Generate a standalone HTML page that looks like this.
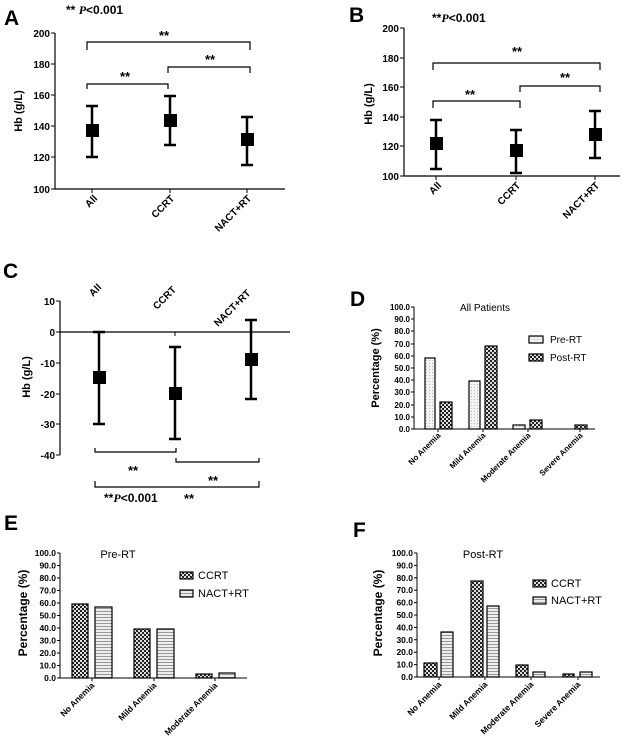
<!DOCTYPE html>
<html><head><meta charset="utf-8"><style>html,body{margin:0;padding:0;background:#fff}svg{display:block}text{font-family:"Liberation Sans",Arial,sans-serif}</style></head>
<body>
<svg width="636" height="748" viewBox="0 0 636 748" xmlns="http://www.w3.org/2000/svg">
<defs>
<pattern id="chk" width="4" height="4" patternUnits="userSpaceOnUse"><rect width="4" height="4" fill="#222"/><rect x="0" y="0" width="2" height="2" fill="#ddd"/><rect x="2" y="2" width="2" height="2" fill="#ddd"/></pattern>
<pattern id="hl" width="4" height="3" patternUnits="userSpaceOnUse"><rect width="4" height="3" fill="#eee"/><rect y="2" width="4" height="1" fill="#999"/></pattern>
<pattern id="dot" width="3" height="3" patternUnits="userSpaceOnUse"><rect width="3" height="3" fill="#f4f4f4"/><rect width="1" height="1" fill="#bbb"/></pattern>
</defs>
<g stroke="#000" fill="none">
<!-- A -->
<path d="M55 33V189H285" stroke-width="1.2"/>
<path d="M51 33h4M51 64h4M51 95h4M51 126h4M51 157h4M51 189h4M92 189v4M170 189v4M247 189v4" stroke-width="1"/>
<path d="M87 50V42H250V50M87 89V84H168V89M168 73V67H250V73" stroke-width="1.2"/>
<g stroke-width="2.5"><path d="M92 106V157M86 106h12M86 157h12M170 96V145M164 96h12M164 145h12M247 117V165M241 117h12M241 165h12"/></g>
<!-- B -->
<path d="M404 28V176H620" stroke-width="1.2"/>
<path d="M400 28h4M400 58h4M400 87h4M400 117h4M400 146h4M400 176h4M436 176v4M516 176v4M595 176v4" stroke-width="1"/>
<path d="M433 70V63H600V70M433 108V101H520V108M520 92V86H600V92" stroke-width="1.2"/>
<g stroke-width="2.5"><path d="M436 120V169M430 120h12M430 169h12M516 130V173M510 130h12M510 173h12M595 111V158M589 111h12M589 158h12"/></g>
<!-- C -->
<path d="M60 301V455" stroke-width="1.2"/>
<path d="M60 332H290" stroke-width="1.2"/>
<path d="M56 301h4M56 332h4M56 363h4M56 394h4M56 424h4M56 455h4M175 332v4" stroke-width="1"/>
<path d="M95 448V452H176V448M176 458V462H259V458M95 481V487H259V481" stroke-width="1.2"/>
<g stroke-width="2.5"><path d="M99 332V424M93 332h12M93 424h12M175 347V439M169 347h12M169 439h12M251 320V399M245 320h12M245 399h12"/></g>
</g>
<g fill="#000">
<rect x="86" y="124" width="13" height="13"/><rect x="164" y="114" width="13" height="13"/><rect x="241" y="133" width="13" height="13"/>
<rect x="430" y="137" width="13" height="13"/><rect x="510" y="144" width="13" height="13"/><rect x="589" y="128" width="13" height="13"/>
<rect x="93" y="371" width="13" height="13"/><rect x="169" y="387" width="13" height="13"/><rect x="245" y="353" width="13" height="13"/>
</g>
<g font-weight="bold" font-size="10" text-anchor="end">
<text x="50" y="37">200</text><text x="50" y="68">180</text><text x="50" y="99">160</text><text x="50" y="130">140</text><text x="50" y="161">120</text><text x="50" y="193">100</text>
<text x="399" y="32">200</text><text x="399" y="62">180</text><text x="399" y="91">160</text><text x="399" y="121">140</text><text x="399" y="150">120</text><text x="399" y="180">100</text>
<text x="55" y="305">10</text><text x="55" y="336">0</text><text x="55" y="367">-10</text><text x="55" y="398">-20</text><text x="55" y="428">-30</text><text x="55" y="459">-40</text>
<text transform="translate(98,199) rotate(-45)">All</text><text transform="translate(175,199) rotate(-45)">CCRT</text><text transform="translate(252,199) rotate(-45)">NACT+RT</text>
<text transform="translate(442,186) rotate(-45)">All</text><text transform="translate(521,186) rotate(-45)">CCRT</text><text transform="translate(600,186) rotate(-45)">NACT+RT</text>
</g>
<g font-weight="bold" font-size="10">
<text transform="translate(93,297) rotate(-45)">All</text><text transform="translate(157,310) rotate(-45)">CCRT</text><text transform="translate(218,327) rotate(-45)">NACT+RT</text>
</g>
<g font-weight="bold" font-size="11" text-anchor="middle">
<text transform="translate(22,111) rotate(-90)">Hb (g/L)</text>
<text transform="translate(372,104) rotate(-90)">Hb (g/L)</text>
<text transform="translate(30,377) rotate(-90)">Hb (g/L)</text>
</g>
<g font-weight="bold" font-size="13" text-anchor="middle">
<text x="164" y="40">**</text><text x="125" y="81">**</text><text x="210" y="64">**</text>
<text x="517" y="56">**</text><text x="470" y="99">**</text><text x="565" y="82">**</text>
<text x="133" y="475">**</text><text x="213" y="485">**</text><text x="189" y="503">**</text>
</g>
<text x="66" y="14" font-size="12" font-weight="bold">** <tspan font-style="italic" font-family="Liberation Serif">P</tspan>&lt;0.001</text>
<text x="432" y="22" font-size="12" font-weight="bold">**<tspan font-style="italic" font-family="Liberation Serif">P</tspan>&lt;0.001</text>
<text x="104" y="502" font-size="12" font-weight="bold">**<tspan font-style="italic" font-family="Liberation Serif">P</tspan>&lt;0.001</text>
<g font-weight="bold" font-size="21">
<text x="4" y="25">A</text><text x="349" y="22">B</text><text x="3" y="278">C</text><text x="350" y="306">D</text><text x="4" y="530">E</text><text x="353" y="537">F</text>
</g>
<!-- D -->
<g stroke="#000" stroke-width="1" fill="none"><path d="M414 307V429H595"/>
<path d="M411 307h3M411 319h3M411 331h3M411 344h3M411 356h3M411 368h3M411 380h3M411 392h3M411 405h3M411 417h3M411 429h3M438 429v3M483 429v3M528 429v3M580 429v3"/></g>
<g stroke="#000" stroke-width="1.2">
<rect x="425" y="358" width="10" height="71" fill="url(#dot)"/><rect x="440" y="402" width="12" height="27" fill="url(#chk)"/>
<rect x="469" y="381" width="11" height="48" fill="url(#dot)"/><rect x="485" y="346" width="12" height="83" fill="url(#chk)"/>
<rect x="513" y="425" width="12" height="4" fill="url(#dot)"/><rect x="530" y="420" width="12" height="9" fill="url(#chk)"/>
<rect x="575" y="425" width="12" height="4" fill="url(#chk)"/>
<rect x="529" y="336" width="14" height="7" fill="url(#dot)"/><rect x="529" y="354" width="14" height="7" fill="url(#chk)"/>
</g>
<g font-size="8" font-weight="bold" text-anchor="end">
<text x="410" y="310">100.0</text><text x="410" y="322">90.0</text><text x="410" y="334">80.0</text><text x="410" y="347">70.0</text><text x="410" y="359">60.0</text><text x="410" y="371">50.0</text><text x="410" y="383">40.0</text><text x="410" y="395">30.0</text><text x="410" y="408">20.0</text><text x="410" y="420">10.0</text><text x="410" y="432">0.0</text>
<text transform="translate(441,436) rotate(-45)">No Anemia</text><text transform="translate(486,436) rotate(-45)">Mild Anemia</text><text transform="translate(531,436) rotate(-45)">Moderate Anemia</text><text transform="translate(583,436) rotate(-45)">Severe Anemia</text>
</g>
<text transform="translate(379,368) rotate(-90)" font-size="11" font-weight="bold" text-anchor="middle">Percentage (%)</text>
<text x="485" y="311" font-size="10" text-anchor="middle">All Patients</text>
<text x="550" y="343" font-size="10">Pre-RT</text><text x="550" y="361" font-size="10">Post-RT</text>
<!-- E -->
<g stroke="#000" stroke-width="1" fill="none"><path d="M60 553V678H247"/>
<path d="M57 553h3M57 565.5h3M57 578h3M57 590.5h3M57 603h3M57 615.5h3M57 628h3M57 640.5h3M57 653h3M57 665.5h3M57 678h3M92 678v3M154 678v3M215 678v3"/></g>
<g stroke="#000" stroke-width="1.2">
<rect x="72" y="604" width="16" height="74" fill="url(#chk)"/><rect x="95" y="607" width="17" height="71" fill="url(#hl)"/>
<rect x="134" y="629" width="16" height="49" fill="url(#chk)"/><rect x="157" y="629" width="17" height="49" fill="url(#hl)"/>
<rect x="196" y="674" width="16" height="4" fill="url(#chk)"/><rect x="219" y="673" width="16" height="5" fill="url(#hl)"/>
<rect x="180" y="572" width="13" height="7" fill="url(#chk)"/><rect x="180" y="590" width="13" height="7" fill="url(#hl)"/>
</g>
<!-- F -->
<g stroke="#000" stroke-width="1" fill="none"><path d="M417 553V677H600"/>
<path d="M414 553h3M414 565.4h3M414 577.8h3M414 590.2h3M414 602.6h3M414 615h3M414 627.4h3M414 639.8h3M414 652.2h3M414 664.6h3M414 677h3M439 677v3M485 677v3M531 677v3M578 677v3"/></g>
<g stroke="#000" stroke-width="1.2">
<rect x="424" y="663" width="13" height="14" fill="url(#chk)"/><rect x="441" y="632" width="12" height="45" fill="url(#hl)"/>
<rect x="471" y="581" width="12" height="96" fill="url(#chk)"/><rect x="487" y="606" width="12" height="71" fill="url(#hl)"/>
<rect x="516" y="665" width="12" height="12" fill="url(#chk)"/><rect x="533" y="672" width="12" height="5" fill="url(#hl)"/>
<rect x="563" y="674" width="11" height="3" fill="url(#chk)"/><rect x="580" y="672" width="12" height="5" fill="url(#hl)"/>
<rect x="533" y="580" width="13" height="7" fill="url(#chk)"/><rect x="533" y="597" width="13" height="7" fill="url(#hl)"/>
</g>
<g font-size="8.5" font-weight="bold" text-anchor="end">
<text x="56" y="556">100.0</text><text x="56" y="568.5">90.0</text><text x="56" y="581">80.0</text><text x="56" y="593.5">70.0</text><text x="56" y="606">60.0</text><text x="56" y="618.5">50.0</text><text x="56" y="631">40.0</text><text x="56" y="643.5">30.0</text><text x="56" y="656">20.0</text><text x="56" y="668.5">10.0</text><text x="56" y="681">0.0</text>
<text transform="translate(95,686) rotate(-45)">No Anemia</text><text transform="translate(157,686) rotate(-45)">Mild Anemia</text><text transform="translate(218,686) rotate(-45)">Moderate Anemia</text>
<text x="413" y="556">100.0</text><text x="413" y="568.4">90.0</text><text x="413" y="580.8">80.0</text><text x="413" y="593.2">70.0</text><text x="413" y="605.6">60.0</text><text x="413" y="618">50.0</text><text x="413" y="630.4">40.0</text><text x="413" y="642.8">30.0</text><text x="413" y="655.2">20.0</text><text x="413" y="667.6">10.0</text><text x="413" y="680">0.0</text>
<text transform="translate(442,685) rotate(-45)">No Anemia</text><text transform="translate(488,685) rotate(-45)">Mild Anemia</text><text transform="translate(534,685) rotate(-45)">Moderate Anemia</text><text transform="translate(581,685) rotate(-45)">Severe Anemia</text>
</g>
<g font-size="12" font-weight="bold" text-anchor="middle">
<text transform="translate(27,613) rotate(-90)">Percentage (%)</text>
<text transform="translate(382,613) rotate(-90)">Percentage (%)</text>
</g>
<g font-size="11">
<text x="118" y="558" text-anchor="middle">Pre-RT</text><text x="198" y="579">CCRT</text><text x="198" y="597">NACT+RT</text>
<text x="483" y="558" text-anchor="middle">Post-RT</text><text x="551" y="587">CCRT</text><text x="551" y="604">NACT+RT</text>
</g>
</svg>
</body></html>
